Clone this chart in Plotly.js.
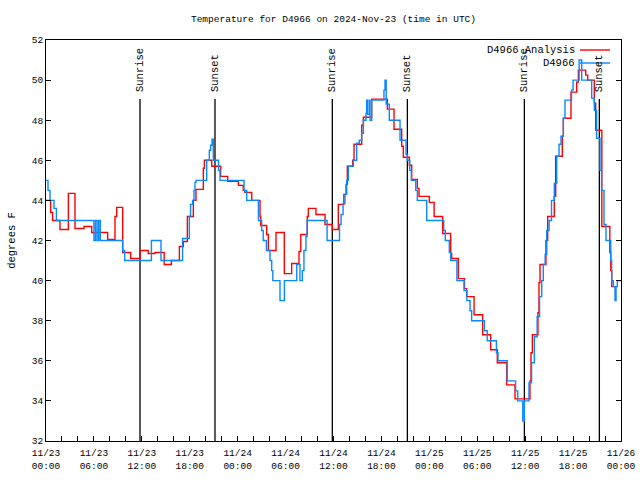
<!DOCTYPE html>
<html>
<head>
<meta charset="utf-8">
<script src="https://cdn.plot.ly/plotly-3.0.1.min.js"></script>
<style>html,body{margin:0;padding:0;background:#fff;}#chart{width:640px;height:480px;}</style>
</head>
<body>
<div id="chart"></div>
<script>
// ---- data (hours after 2024-11-23 00:00 UTC, degrees F) ----
const obsHours = [0,0.25,0.5,1.0,1.3,6.0,6.2,6.4,6.6,6.8,9.6,9.85,13.2,14.4,17.1,17.95,18.1,18.36,18.53,18.66,18.78,20.12,20.45,20.62,20.79,20.95,21.6,21.79,24.8,25.13,26.6,27.0,27.2,27.6,28.05,28.26,28.4,29.3,29.85,31.4,31.8,32.1,32.3,32.55,32.7,35.2,36.75,36.95,37.2,37.44,37.65,37.86,38.48,38.9,39.23,39.53,39.74,40.07,40.15,40.28,40.5,40.57,40.78,42.32,42.45,42.6,42.99,44.33,45.08,45.25,45.55,45.75,46.3,46.5,47.67,49.8,50.0,50.5,50.67,51.45,52.35,52.7,53.1,53.3,54.9,55.25,56.4,56.6,57.75,58.8,59.07,59.7,59.9,60.48,60.8,61.15,61.5,61.8,62.07,62.27,62.5,62.7,63.0,63.3,63.65,63.95,64.24,64.49,64.78,64.99,65.8,66.0,66.76,67.08,68.33,68.66,68.95,69.37,69.57,69.87,70.12,70.71,70.83,71.04,71.25,71.38,71.54,72.0];
const obsTemps = [45.0,44.5,44.0,43.6,43.0,42.0,43.0,42.0,43.0,42.0,41.5,41.0,42.0,41.0,42.1,43.2,43.8,44.0,44.5,44.9,45.0,46.0,46.5,46.75,47.05,46.0,45.5,45.0,44.5,44.0,43.0,42.5,42.0,41.5,41.0,40.5,40.0,39.0,40.0,40.8,40.0,40.5,41.5,42.2,43.0,42.0,42.8,43.3,43.85,44.3,45.0,45.7,46.0,46.85,47.0,47.35,48.0,48.35,49.0,48.3,49.0,48.0,49.0,49.5,50.0,48.8,48.0,47.0,46.3,46.0,45.5,45.0,44.5,44.0,43.0,42.5,42.0,41.4,41.0,40.0,39.5,39.0,38.5,38.0,37.5,37.0,36.4,36.0,35.0,34.5,34.0,33.0,34.0,34.9,35.9,37.2,38.2,39.2,40.0,40.8,41.3,42.5,43.0,44.0,44.85,46.2,46.8,47.2,48.1,49.0,49.5,50.0,51.0,50.0,49.1,48.5,47.1,45.5,44.5,42.8,42.0,41.0,40.0,39.7,39.0,39.7,40.0,40.0];

const anaHours = [0,0.58,0.83,1.75,2.8,3.63,4.76,5.72,7.72,8.64,8.85,9.6,10.6,11.77,12.8,13.65,14.8,15.7,16.7,17.2,17.7,18.45,18.78,19.7,19.83,20.75,21.87,22.75,24.09,24.7,24.9,25.76,26.8,26.88,27.63,27.84,28.8,29.84,30.76,31.68,31.9,32.72,32.85,33.8,34.94,35.85,36.6,37.3,37.57,37.73,38.4,38.57,39.53,39.74,40.78,42.74,43.58,44.54,44.74,45.5,45.79,46.5,46.71,48.0,48.6,49.67,50.67,50.8,51.63,52.4,52.67,53.6,54.68,55.68,56.51,57.68,58.73,60.6,60.73,60.9,61.6,61.73,61.86,62.6,62.82,63.65,63.82,64.65,64.78,65.74,66.45,66.66,67.58,67.83,68.66,68.83,69.6,70.6,70.72,70.84,71.5];
const anaTemps = [44.0,43.4,43.0,42.55,44.35,42.6,42.7,42.4,42.05,43.2,43.65,41.4,41.1,41.5,41.35,41.4,40.8,41.0,41.7,41.95,43.2,44.0,44.55,45.6,46.0,45.7,45.2,44.95,44.75,44.5,44.4,44.0,43.2,42.75,42.3,41.5,42.4,40.35,40.85,41.45,42.3,43.2,43.6,43.3,42.8,42.55,43.8,44.3,44.8,45.7,46.0,46.8,47.75,48.15,49.05,48.55,47.55,46.7,46.15,45.75,45.05,44.6,44.2,43.9,43.2,42.35,41.35,41.1,40.1,39.6,39.2,38.3,37.3,36.55,35.9,34.8,34.1,35.0,36.4,37.3,38.4,39.9,40.8,42.0,43.2,44.2,46.2,47.2,48.1,49.4,49.9,50.5,50.25,50.0,48.85,47.5,42.7,41.4,40.5,39.7,39.7];

const sunEventHours = [11.77, 21.16, 35.85, 45.25, 59.9, 69.29];
const sunEventNames = ['Sunrise','Sunset','Sunrise','Sunset','Sunrise','Sunset'];

const tickLabels = ['11/23<br>00:00','11/23<br>06:00','11/23<br>12:00','11/23<br>18:00',
  '11/24<br>00:00','11/24<br>06:00','11/24<br>12:00','11/24<br>18:00',
  '11/25<br>00:00','11/25<br>06:00','11/25<br>12:00','11/25<br>18:00','11/26<br>00:00'];

const seriesNames = ['D4966 Analysis','D4966'];
const titleText = 'Temperature for D4966 on 2024-Nov-23 (time in UTC)';

// ---- helpers ----
const T0 = Date.UTC(2024,10,23,0,0,0);
function toDate(h){ return new Date(T0 + Math.round(h*3600000)).toISOString().slice(0,19).replace('T',' '); }

const FONT = 'Liberation Mono, DejaVu Sans Mono, monospace';
const RED = '#ff0000', BLUE = '#0a88ff';

// plot area in px (for paper-coordinate decorations)
const PL = 46, PR = 621, PT = 40, PB = 441;
const px2paperX = x => (x-PL)/(PR-PL);
const px2paperY = y => (PB-y)/(PB-PT);

const traces = [
  {x: anaHours.map(toDate), y: anaTemps, type:'scatter', mode:'lines', line:{shape:'hv', color:RED, width:1.4}, name:seriesNames[0], hoverinfo:'skip'},
  {x: obsHours.map(toDate), y: obsTemps, type:'scatter', mode:'lines', line:{shape:'hv', color:BLUE, width:1.4}, name:seriesNames[1], hoverinfo:'skip'}
];

const tickVals = [], tickText = [];
for (let h=0; h<=72; h+=2){ tickVals.push(toDate(h)); tickText.push(h%6===0 ? tickLabels[h/6] : ''); }

const shapes = [], annotations = [];
sunEventHours.forEach((h,i)=>{
  shapes.push({type:'line', xref:'x', yref:'paper', x0:toDate(h), x1:toDate(h), y0:0, y1:px2paperY(99), line:{color:'#000', width:1.3}, layer:'below'});
  annotations.push({text:sunEventNames[i], xref:'x', yref:'paper', x:toDate(h), y:px2paperY(94), xanchor:'center', yanchor:'bottom', textangle:-90, showarrow:false, font:{family:FONT, size:10.5, color:'#000'}});
});
// custom gnuplot-style legend (text right, sample line to the right)
const legColors = [RED, BLUE];
[50, 63].forEach((y,i)=>{
  annotations.push({text:seriesNames[i], xref:'paper', yref:'paper', x:px2paperX(577), y:px2paperY(y), xanchor:'right', yanchor:'middle', showarrow:false, font:{family:FONT, size:10.5, color:'#000'}});
  shapes.push({type:'line', xref:'paper', yref:'paper', x0:px2paperX(580), x1:px2paperX(610), y0:px2paperY(y), y1:px2paperY(y), line:{color:legColors[i], width:1.4}});
});

const layout = {
  width:640, height:480,
  margin:{l:PL, r:640-PR, t:PT, b:480-PB, pad:0},
  paper_bgcolor:'#fff', plot_bgcolor:'#fff',
  showlegend:false,
  font:{family:FONT, size:9.5, color:'#000'},
  title:{text:titleText, x:0.5, xref:'paper', xanchor:'center', y:1-19/480, yref:'container', yanchor:'middle', font:{family:FONT, size:9.5, color:'#000'}},
  xaxis:{type:'date', range:[toDate(0), toDate(72)], tickmode:'array', tickvals:tickVals, ticktext:tickText,
    ticks:'inside', ticklen:5, tickwidth:1, tickcolor:'#000', showline:true, linecolor:'#000', linewidth:1, mirror:true,
    showgrid:false, zeroline:false, ticklabelstandoff:3, tickfont:{family:FONT, size:9.5, color:'#000'}, fixedrange:true},
  yaxis:{range:[32,52], tickmode:'linear', tick0:32, dtick:2, ticks:'inside', ticklen:5, tickwidth:1, tickcolor:'#000',
    showline:true, linecolor:'#000', linewidth:1, mirror:'ticks', showgrid:false, zeroline:false,
    tickfont:{family:FONT, size:9.5, color:'#000'},
    title:{text:'degrees F', font:{family:FONT, size:10.5, color:'#000'}, standoff:14}, fixedrange:true},
  shapes:shapes, annotations:annotations
};

Plotly.newPlot('chart', traces, layout, {staticPlot:true, displayModeBar:false});
</script>
</body>
</html>
